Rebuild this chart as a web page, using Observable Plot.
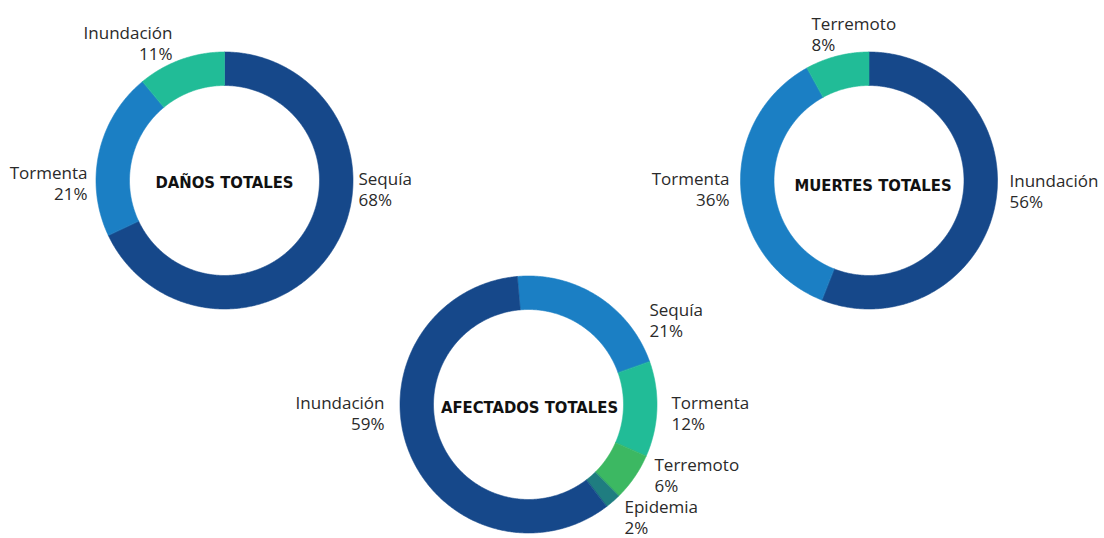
<!DOCTYPE html>
<html>
<head>
<meta charset="utf-8">
<script src="https://cdn.jsdelivr.net/npm/d3@7"></script>
<script src="https://cdn.jsdelivr.net/npm/@observablehq/plot@0.6"></script>
<style>
  html, body { margin: 0; padding: 0; background: #fff; }
  #chart svg { display: block; }
</style>
</head>
<body>
<div id="chart"></div>
<script>
// ---- data ----
const chartTitles = ["DAÑOS TOTALES", "MUERTES TOTALES", "AFECTADOS TOTALES"];

const danosCategories = ["Sequía", "Tormenta", "Inundación"];
const danosValues = [68, 21, 11];

const muertesCategories = ["Inundación", "Tormenta", "Terremoto"];
const muertesValues = [56, 36, 8];

const afectadosCategories = ["Sequía", "Tormenta", "Terremoto", "Epidemia", "Inundación"];
const afectadosValues = [21, 12, 6, 2, 59];

// ---- styles / layout (kept apart from data) ----
const danosColors = ["#16488a", "#1b7fc4", "#21bc97"];
const muertesColors = ["#16488a", "#1b7fc4", "#21bc97"];
const afectadosColors = ["#1b7fc4", "#21bc97", "#3cb862", "#1f7d80", "#16488a"];

const W = 1104, H = 538;
const R_OUT = 128.5, R_IN = 95;

const layout = [
  {cx: 224, cy: 180, start: 0, tdx: 0, tdy: 2,
   labels: [{dx: 134, dy: 8, anchor: "start"}, {dx: -137, dy: 2, anchor: "end"}, {dx: -52, dy: -138, anchor: "end"}]},
  {cx: 868.5, cy: 180, start: 0, tdx: 4, tdy: 5,
   labels: [{dx: 140.5, dy: 10, anchor: "start"}, {dx: -139.5, dy: 8, anchor: "end"}, {dx: -57.5, dy: -146.5, anchor: "start"}]},
  {cx: 528, cy: 404, start: -5, tdx: 1, tdy: 3,
   labels: [{dx: 121, dy: -85, anchor: "start"}, {dx: 143, dy: 8.5, anchor: "start"}, {dx: 126, dy: 70, anchor: "start"}, {dx: 96, dy: 112, anchor: "start"}, {dx: -144, dy: 8, anchor: "end"}]}
];

const series = [
  {cats: danosCategories, vals: danosValues, colors: danosColors},
  {cats: muertesCategories, vals: muertesValues, colors: muertesColors},
  {cats: afectadosCategories, vals: afectadosValues, colors: afectadosColors}
];

// ---- build slice polygons & labels ----
const polyPts = [];
const labelRows = [];
const titleRows = [];
series.forEach((s, ci) => {
  const L = layout[ci];
  const startRad = L.start * Math.PI / 180;
  const arcs = d3.pie().sort(null).value(d => d).startAngle(startRad).endAngle(startRad + 2 * Math.PI)(s.vals);
  arcs.forEach((a, si) => {
    const id = ci + "-" + si;
    const n = Math.max(4, Math.ceil((a.endAngle - a.startAngle) / (Math.PI / 360)));
    for (let k = 0; k <= n; k++) {
      const t = a.startAngle + (a.endAngle - a.startAngle) * k / n;
      polyPts.push({id, color: s.colors[si], x: L.cx + R_OUT * Math.sin(t), y: L.cy - R_OUT * Math.cos(t)});
    }
    for (let k = n; k >= 0; k--) {
      const t = a.startAngle + (a.endAngle - a.startAngle) * k / n;
      polyPts.push({id, color: s.colors[si], x: L.cx + R_IN * Math.sin(t), y: L.cy - R_IN * Math.cos(t)});
    }
    const lp = L.labels[si];
    labelRows.push({x: L.cx + lp.dx, y: L.cy + lp.dy, anchor: lp.anchor, text: s.cats[si] + "\n" + s.vals[si] + "%"});
  });
  titleRows.push({x: L.cx + L.tdx, y: L.cy + L.tdy, text: chartTitles[ci]});
});

const labelFont = "'Open Sans', 'Noto Sans', sans-serif";

const plot = Plot.plot({
  width: W,
  height: H,
  margin: 0,
  x: {domain: [0, W], range: [0, W], axis: null},
  y: {domain: [0, H], range: [0, H], axis: null},
  style: {background: "#fff"},
  marks: [
    Plot.line(polyPts, {x: "x", y: "y", z: "id", fill: "color", stroke: "color", strokeWidth: 0.6, curve: "linear-closed"}),
    Plot.text(labelRows.filter(d => d.anchor === "start"), {x: "x", y: "y", text: "text", textAnchor: "start", lineAnchor: "middle", lineHeight: 1.25, fontSize: 17, fontFamily: labelFont, fill: "#2a2a2a"}),
    Plot.text(labelRows.filter(d => d.anchor === "end"), {x: "x", y: "y", text: "text", textAnchor: "end", lineAnchor: "middle", lineHeight: 1.25, fontSize: 17, fontFamily: labelFont, fill: "#2a2a2a"}),
    Plot.text(titleRows, {x: "x", y: "y", text: "text", textAnchor: "middle", lineAnchor: "middle", fontSize: 16.5, fontWeight: "bold", fontFamily: "'DejaVu Sans Condensed', 'DejaVu Sans', sans-serif", fill: "#111"})
  ]
});
document.getElementById("chart").appendChild(plot);
</script>
</body>
</html>
